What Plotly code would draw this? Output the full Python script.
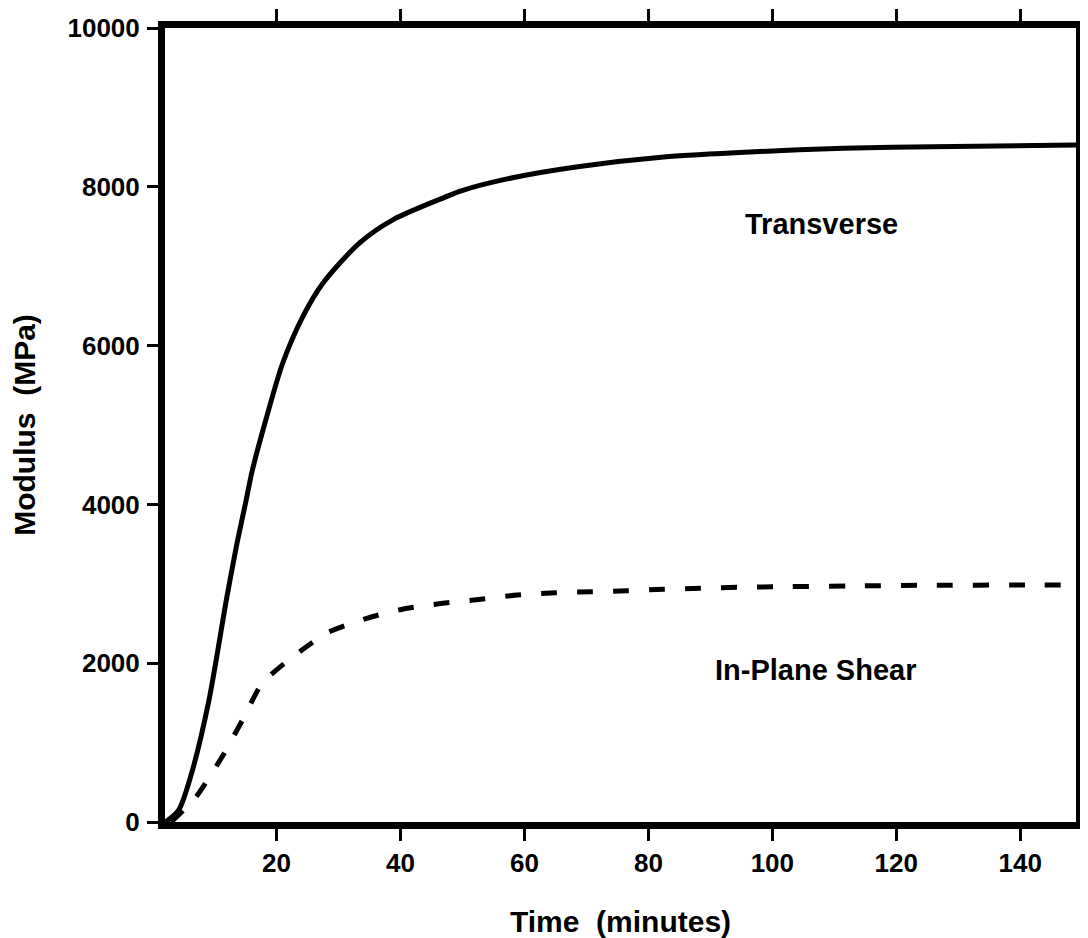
import plotly.graph_objects as go

# Transverse modulus (solid)
t_transverse = [2.1, 4.2, 6.3, 9.1, 11.9, 13.5, 15.1, 16.1, 18.4, 21.0, 24.2, 27.5,
                33.5, 38.9, 47.2, 49.8, 57.9, 68.6, 82.9, 97.2, 111.5, 125.8, 149.3]
v_transverse = [0, 150, 617, 1537, 2796, 3463, 4055, 4433, 5101, 5781, 6360, 6788,
                7300, 7590, 7870, 7950, 8111, 8253, 8379, 8442, 8485, 8505, 8526]

# In-plane shear modulus (dashed)
t_shear = [3.0, 7.0, 11.2, 14.5, 17.7, 22.6, 28.1, 34.7, 40.5, 46.8, 52.9, 58.8,
           65.0, 70.8, 76.6, 82.5, 88.4, 94.4, 100.3, 112.3, 124.4, 142.6, 149.3]
v_shear = [0, 315, 819, 1285, 1751, 2078, 2380, 2569, 2683, 2754, 2805, 2859,
           2888, 2900, 2913, 2931, 2943, 2956, 2963, 2972, 2981, 2985, 2987]

x_ticks = [20, 40, 60, 80, 100, 120, 140]
y_ticks = [0, 2000, 4000, 6000, 8000, 10000]
y_tick_text = ["0", "2000", "4000", "6000", "8000", "10000"]

labels = ["Transverse", "In-Plane Shear"]
label_x = [108, 107]
label_y = [7530, 1920]

FONT = "Liberation Sans, Arial, sans-serif"

fig = go.Figure()
fig.add_trace(go.Scatter(x=t_transverse, y=v_transverse, mode="lines",
                         line=dict(color="black", width=5, shape="spline", smoothing=0.8),
                         name=labels[0], showlegend=False))
fig.add_trace(go.Scatter(x=t_shear, y=v_shear, mode="lines",
                         line=dict(color="black", width=5, dash="16px,20px",
                                   shape="spline", smoothing=0.6),
                         name=labels[1], showlegend=False))

for txt, lx, ly in zip(labels, label_x, label_y):
    fig.add_annotation(x=lx, y=ly, text=txt, showarrow=False,
                       font=dict(family=FONT, size=29, color="black", weight="bold"))

axis_common = dict(showline=True, linecolor="black", linewidth=7, mirror="ticks",
                   ticks="outside", tickcolor="black", tickwidth=3,
                   showgrid=False, zeroline=False, automargin=False,
                   tickfont=dict(family=FONT, size=26, color="black", weight="bold"))

fig.update_xaxes(range=[2, 149], tickvals=x_ticks, ticklen=12,
                 title=dict(text="Time  (minutes)", standoff=36,
                            font=dict(family=FONT, size=30, color="black", weight="bold")),
                 ticklabelstandoff=0,
                 **axis_common)
fig.update_yaxes(range=[0, 10000], tickvals=y_ticks, ticktext=y_tick_text, ticklen=11,
                 title=dict(text="Modulus  (MPa)", standoff=28,
                            font=dict(family=FONT, size=30, color="black", weight="bold")),
                 ticklabelstandoff=2,
                 **axis_common)

# page body adds an 8px offset; the figure is sized so the plot lands where the reference has it
fig.update_layout(width=1080, height=930,
                  margin=dict(l=157, r=12, t=20, b=116),
                  paper_bgcolor="white", plot_bgcolor="white")

fig.write_html("out.html")
